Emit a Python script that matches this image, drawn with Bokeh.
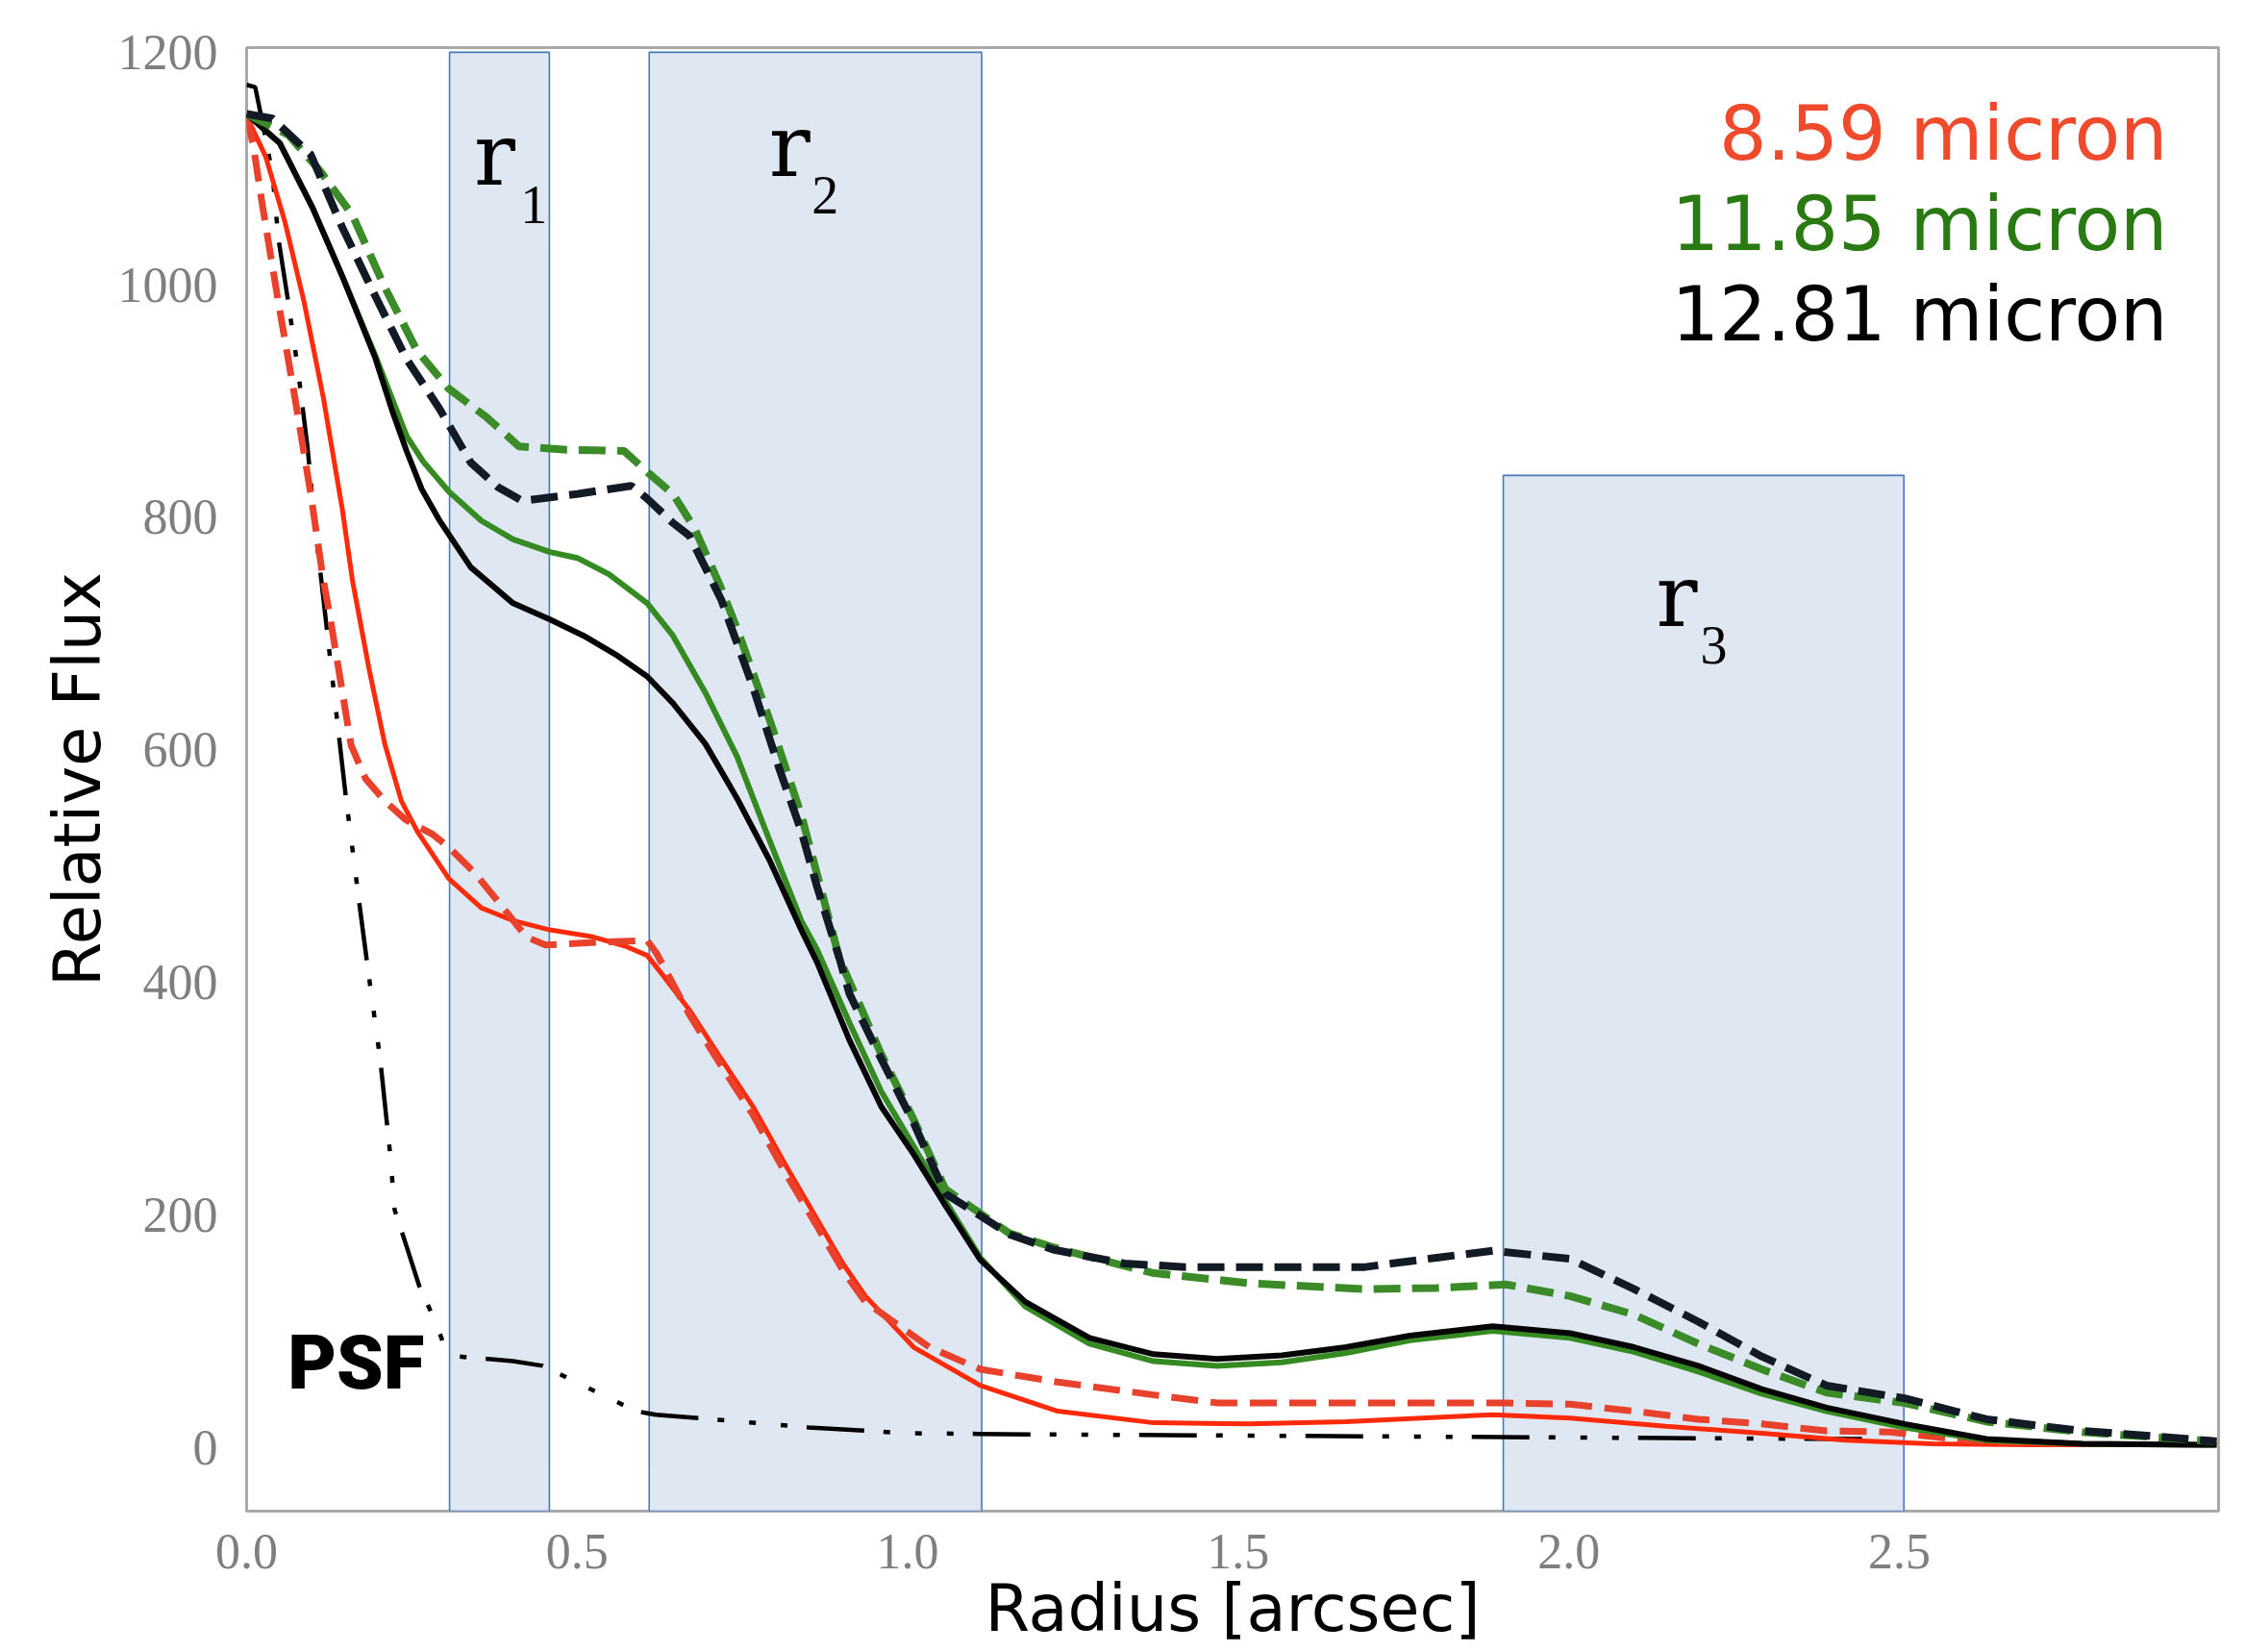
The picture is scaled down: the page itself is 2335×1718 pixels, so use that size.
from bokeh.plotting import figure
from bokeh.models import Range1d, FixedTicker, PrintfTickFormatter, Label
from bokeh.embed import file_html
from bokeh.resources import INLINE

# ---------------- data ----------------
x_ticks = [0.0, 0.5, 1.0, 1.5, 2.0, 2.5]
y_ticks = [0, 200, 400, 600, 800, 1000, 1200]

# shaded radial zones r1, r2, r3
zone_left = [0.307, 0.609, 1.901]
zone_right = [0.458, 1.112, 2.507]
zone_top = [1200, 1200, 836]
zone_names = ["1", "2", "3"]

# 12.81 micron, solid
k_sol_x = [0.0, 0.05, 0.1, 0.145, 0.194, 0.22, 0.242, 0.265, 0.291, 0.339, 0.403, 0.459, 0.51, 0.558,
           0.606, 0.645, 0.694, 0.742, 0.791, 0.839, 0.863, 0.912, 0.96, 1.009, 1.057, 1.11, 1.178,
           1.275, 1.372, 1.469, 1.566, 1.663, 1.76, 1.885, 2.002, 2.099, 2.196, 2.292, 2.39, 2.508,
           2.632, 2.777, 2.98]
k_sol_y = [1147, 1122, 1066, 1007, 938, 892, 857, 824, 798, 757, 726, 712, 698, 682,
           663, 640, 605, 558, 505, 445, 417, 350, 293, 252, 208, 161, 125,
           94, 80, 76, 79, 86, 96, 104, 98, 86, 70, 50, 34, 20,
           7, 3, 2]

# 11.85 micron, solid
g_sol_x = [0.0, 0.05, 0.1, 0.145, 0.194, 0.242, 0.267, 0.306, 0.355, 0.403, 0.459, 0.5, 0.548, 0.606,
           0.645, 0.694, 0.742, 0.791, 0.839, 0.863, 0.912, 0.96, 1.009, 1.057, 1.11, 1.178, 1.275,
           1.372, 1.469, 1.566, 1.663, 1.76, 1.885, 2.002, 2.099, 2.196, 2.292, 2.39, 2.508, 2.632,
           2.777, 2.98]
g_sol_y = [1147, 1122, 1066, 1007, 940, 870, 848, 822, 797, 781, 770, 765, 751, 726,
           698, 649, 594, 522, 453, 428, 365, 306, 259, 212, 163, 121, 89,
           74, 70, 73, 81, 92, 100, 94, 82, 65, 46, 31, 17, 6,
           3, 2]

# 12.81 micron, dashed
k_dash_x = [0.0, 0.039, 0.097, 0.145, 0.194, 0.242, 0.291, 0.339, 0.38, 0.417, 0.5, 0.582, 0.606,
            0.645, 0.67, 0.718, 0.766, 0.805, 0.839, 0.863, 0.897, 0.912, 0.96, 1.009, 1.057, 1.11,
            1.154, 1.22, 1.328, 1.42, 1.55, 1.692, 1.8, 1.885, 2.002, 2.099, 2.196, 2.292, 2.39,
            2.508, 2.632, 2.777, 2.874, 2.98]
k_dash_y = [1147, 1143, 1112, 1049, 991, 936, 894, 847, 826, 814, 820, 827, 816,
            795, 784, 729, 654, 585, 530, 482, 420, 390, 334, 279, 218, 199,
            183, 170, 158, 155, 155, 155, 163, 169, 162, 136, 108, 78, 53,
            42, 24, 14, 10, 5]

# 11.85 micron, dashed
g_dash_x = [0.0, 0.063, 0.111, 0.16, 0.208, 0.257, 0.305, 0.363, 0.412, 0.484, 0.571, 0.61, 0.645,
            0.678, 0.717, 0.742, 0.791, 0.839, 0.897, 0.96, 1.009, 1.057, 1.11, 1.154, 1.22, 1.3,
            1.37, 1.517, 1.692, 1.8, 1.905, 2.002, 2.099, 2.196, 2.292, 2.39, 2.508, 2.632, 2.777,
            2.874, 2.98]
g_dash_y = [1147, 1129, 1098, 1060, 999, 944, 911, 886, 861, 858, 857, 837, 820,
            790, 740, 704, 626, 544, 420, 338, 282, 222, 201, 184, 172, 160,
            150, 141, 136, 137, 140, 130, 114, 89, 67, 47, 38, 22, 13,
            9, 5]

# 8.59 micron, solid
r_sol_x = [0.0, 0.029, 0.058, 0.087, 0.116, 0.145, 0.16, 0.185, 0.209, 0.234, 0.258, 0.306, 0.355,
           0.403, 0.459, 0.524, 0.573, 0.606, 0.631, 0.67, 0.718, 0.766, 0.815, 0.863, 0.902, 0.936,
           1.009, 1.11, 1.227, 1.372, 1.517, 1.663, 1.885, 2.002, 2.147, 2.292, 2.419, 2.55, 2.7, 2.98]
r_sol_y = [1145, 1110, 1054, 985, 903, 806, 746, 670, 605, 556, 530, 489, 464,
           453, 445, 439, 431, 423, 405, 376, 334, 293, 243, 196, 158, 130,
           86, 53, 31, 21, 20, 22, 28, 25, 18, 12, 6, 3, 2, 2]

# 8.59 micron, dashed
r_dash_x = [0.0, 0.01, 0.024, 0.048, 0.073, 0.097, 0.116, 0.126, 0.158, 0.18, 0.209, 0.24, 0.282,
            0.306, 0.345, 0.384, 0.423, 0.452, 0.52, 0.606, 0.62, 0.67, 0.718, 0.766, 0.815, 0.863,
            0.902, 0.936, 1.033, 1.11, 1.227, 1.372, 1.469, 1.692, 1.905, 2.002, 2.099, 2.196, 2.292,
            2.39, 2.487, 2.6, 2.75]
r_dash_y = [1145, 1120, 1068, 985, 903, 820, 746, 715, 604, 575, 556, 540, 527,
            516, 494, 467, 439, 432, 434, 436, 425, 372, 328, 286, 236, 190,
            152, 125, 86, 67, 56, 45, 38, 38, 38, 37, 31, 24, 20,
            14, 13, 6, 3]

# PSF
psf_x = [0.0, 0.013, 0.022, 0.039, 0.048, 0.063, 0.077, 0.092, 0.106, 0.113, 0.13, 0.15, 0.17, 0.185,
         0.202, 0.217, 0.224, 0.239, 0.261, 0.284, 0.3, 0.321, 0.403, 0.448, 0.52, 0.589, 0.619, 0.746,
         0.85, 1.0, 1.2, 1.5, 1.8, 2.1, 2.45]
psf_y = [1172, 1170, 1145, 1096, 1040, 985, 930, 861, 779, 746, 660, 560, 470, 405,
         334, 253, 204, 178, 139, 110, 86, 78, 74, 70, 50, 31, 28, 22,
         17, 12, 11, 10, 9, 8, 7]

legend_texts = ["8.59 micron", "11.85 micron", "12.81 micron"]

# ---------------- figure ----------------
p = figure(width=2327, height=1718, output_backend="svg", toolbar_location=None,
           x_range=Range1d(0, 2.983), y_range=Range1d(-55, 1204),
           min_border_left=256, min_border_right=20, min_border_top=49, min_border_bottom=147)
p.background_fill_color = "white"
p.border_fill_color = "white"
p.grid.visible = False
p.outline_line_color = "#a9a9a9"
p.outline_line_width = 3

p.xaxis.ticker = FixedTicker(ticks=x_ticks)
p.yaxis.ticker = FixedTicker(ticks=y_ticks)
p.xaxis.formatter = PrintfTickFormatter(format="%.1f")
p.xaxis.axis_label = "Radius [arcsec]"
p.yaxis.axis_label = "Relative Flux"
for ax in (p.xaxis[0], p.yaxis[0]):
    ax.axis_line_color = None
    ax.major_tick_line_color = None
    ax.minor_tick_line_color = None
    ax.major_tick_out = 0
    ax.major_tick_in = 0
    ax.minor_tick_out = 0
    ax.minor_tick_in = 0
    ax.major_label_text_font = "Liberation Serif"
    ax.major_label_text_font_size = "52px"
    ax.major_label_text_color = "#7f7f7f"
    ax.axis_label_text_font = "DejaVu Sans"
    ax.axis_label_text_font_size = "67px"
    ax.axis_label_text_font_style = "normal"
    ax.axis_label_text_color = "black"
p.xaxis.major_label_standoff = 24
p.yaxis.major_label_standoff = 30
p.xaxis.axis_label_standoff = 0
p.yaxis.axis_label_standoff = 0

# shaded zones
p.quad(left=zone_left, right=zone_right, top=zone_top, bottom=[-55] * len(zone_left),
       fill_color="#dee7f2", line_color="#4a78c0", line_width=1.6)

# curves
p.line(psf_x, psf_y, line_color="black", line_width=4.5, line_dash="60 20 7 26 7 26 7 20")
p.line(r_sol_x, r_sol_y, line_color="#ff2a0a", line_width=5)
p.line(r_dash_x, r_dash_y, line_color="#e8412c", line_width=7, line_dash="28 13")
p.line(g_sol_x, g_sol_y, line_color="#358a22", line_width=6)
p.line(k_sol_x, k_sol_y, line_color="#050505", line_width=6)
p.line(g_dash_x, g_dash_y, line_color="#3b8c28", line_width=8, line_dash="28 12")
p.line(k_dash_x, k_dash_y, line_color="#121a26", line_width=8, line_dash="28 12")

# zone labels: heavy serif "r" with a regular serif subscript
for rx, ry in zip([0.344, 0.790, 2.132], [1069, 1076, 689]):
    p.add_layout(Label(x=rx, y=ry, text="r", text_font="DejaVu Serif",
                       text_font_size="90px", text_color="black", text_align="left",
                       text_baseline="bottom"))
for sx, sy, name in zip([0.414, 0.855, 2.199], [1053, 1061, 674], zone_names):
    p.add_layout(Label(x=sx, y=sy, text=name, text_font="Liberation Serif",
                       text_font_size="56px", text_color="black", text_align="left",
                       text_baseline="bottom"))

# wavelength key
for t, c, yy in zip(legend_texts, ["#f04a2c", "#2a7a14", "#000000"], [1093, 1015, 937]):
    p.add_layout(Label(x=2.906, y=yy, text=t, text_font="DejaVu Sans", text_font_size="78px",
                       text_color=c, text_align="right", text_baseline="bottom"))

# PSF tag (heavy face chosen by family name; falls back to DejaVu Sans)
p.add_layout(Label(x=0.062, y=35, text="PSF",
                   text_font="Roboto Black, Lato Black, Inter Black, Open Sans ExtraBold, Noto Sans CJK SC Black, DejaVu Sans",
                   text_font_size="78px", text_color="black", text_align="left",
                   text_baseline="bottom"))

open("out.html", "w").write(file_html(p, INLINE))
